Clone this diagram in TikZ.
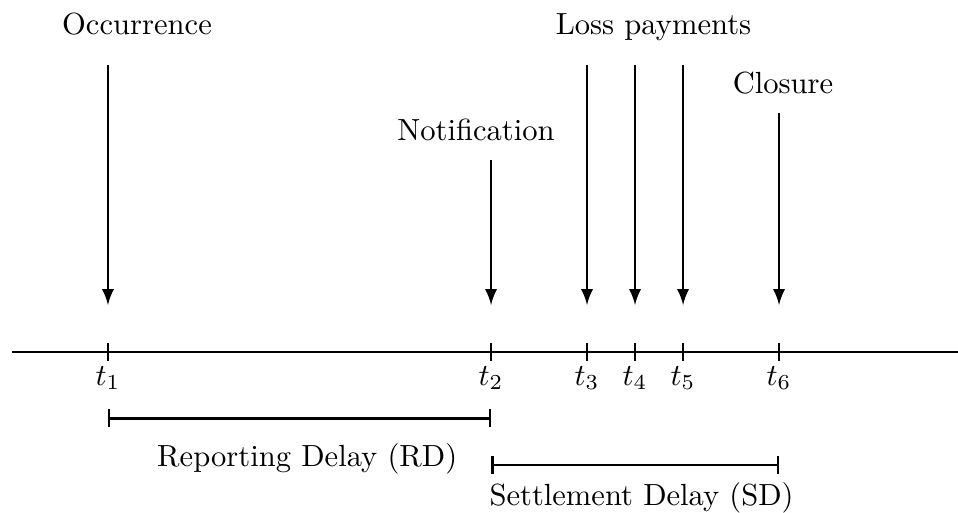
\documentclass[tikz,border=0pt]{standalone}
\usepackage{amsmath,amssymb}
\usepackage{tikz}
\usetikzlibrary{arrows.meta}

\begin{document}
\begin{tikzpicture}[thick]
\useasboundingbox (0,0) rectangle (11.011,5.885);
\draw
(1.575,5.483) node[anchor=base](occ){Occurrence}
(5.471,4.268) node[anchor=base](notif){Notification}
(7.511,5.483) node[anchor=base](loss){Loss payments}
(9.0,4.813) node[anchor=base](clos){Closure};

\coordinate (tip) at (0,2.379);
\coordinate (ax0) at (0.138,1.839);
\coordinate (ax1) at (11.011,1.839);
\foreach \i/\x in {1/1.241,2/5.644,3/6.747,4/7.299,5/7.851,6/8.954}
  \coordinate (t\i) at (\x,1.839);

% time axis and ticks
\draw (ax0) -- (ax1);
\foreach \i in {1,...,6}{
  \draw ([yshift=-0.1cm]t\i) -- ([yshift=0.1cm]t\i);
  \node[below, yshift=-1pt] (tl\i) at (t\i) {$t_\i$};
}

% events
\foreach \i/\y in {1/5.14,2/4.046,3/5.14,4/5.14,5/5.14,6/4.586}
  \draw[-latex] (t\i |- 0,\y) -- (t\i |- tip);

% delays
\coordinate (rd0) at (t1 |- 0,1.077);
\coordinate (rd1) at (t2 |- 0,1.077);
\coordinate (sd0) at (t2 |- 0,0.540);
\coordinate (sd1) at (t6 |- 0,0.540);
\draw[{Bar[width=6pt]}-{Bar[width=6pt]}] (rd0) -- (rd1);
\draw[{Bar[width=6pt]}-{Bar[width=6pt]}] (sd0) -- (sd1);
\draw
(3.531,0.521) node[anchor=base](rd){Reporting Delay (RD)}
(7.374,0.08) node[anchor=base](sd){Settlement Delay (SD)};

\end{tikzpicture}
\end{document}
